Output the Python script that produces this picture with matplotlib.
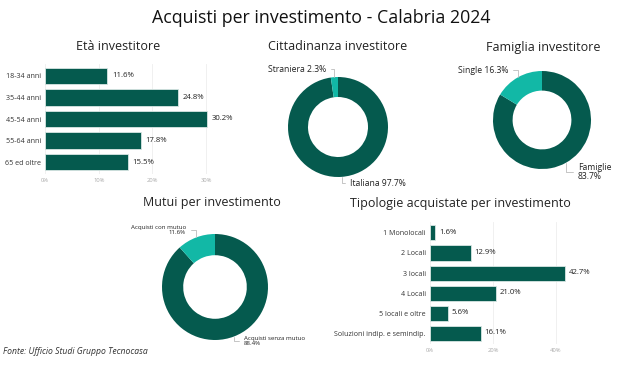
import matplotlib
matplotlib.use("Agg")
import matplotlib.pyplot as plt
import numpy as np

plt.rcParams['font.family'] = ['Open Sans', 'DejaVu Sans']

# ---- dati ----
eta_labels = ["18-34 anni", "35-44 anni", "45-54 anni", "55-64 anni", "65 ed oltre"]
eta_values = [11.6, 24.8, 30.2, 17.8, 15.5]

citt_labels = ["Italiana", "Straniera"]
citt_values = [97.7, 2.3]

fam_labels = ["Famiglie", "Single"]
fam_values = [83.7, 16.3]

mutui_labels = ["Acquisti senza mutuo", "Acquisti con mutuo"]
mutui_values = [88.4, 11.6]

tipo_labels = ["1 Monolocali", "2 Locali", "3 locali", "4 Locali",
               "5 locali e oltre", "Soluzioni indip. e semindip."]
tipo_values = [1.6, 12.9, 42.7, 21.0, 5.6, 16.1]

DARK = "#055a4e"
TEAL = "#12b8a6"
W, H = 643, 367

fig = plt.figure(figsize=(W / 100, H / 100), dpi=100)


def px_axes(left, top, width, height):
    # assi in coordinate pixel (origine in alto a sinistra)
    return fig.add_axes([left / W, 1 - (top + height) / H, width / W, height / H])


def barh_panel(ax, labels, values, xmax, ticks):
    y = range(len(labels))
    ax.barh(y, values, height=0.75, color=DARK, edgecolor="#d8e6e3", linewidth=0.6, zorder=3)
    ax.set_yticks(list(y))
    ax.set_yticklabels(labels, fontsize=5.1, color="#333333")
    ax.set_ylim(len(labels) - 0.45, -0.55)
    ax.set_xlim(0, xmax)
    ax.set_xticks(ticks)
    ax.set_xticklabels([f"{t}%" for t in ticks], fontsize=4.2, color="#aaaaaa")
    ax.grid(axis="x", color="#eeeeee", linewidth=0.6, zorder=0)
    for s in ax.spines.values():
        s.set_visible(False)
    ax.tick_params(length=0, pad=3)
    for i, v in enumerate(values):
        ax.text(v + xmax * 0.025, i, f"{v:.1f}%", va="center", ha="left",
                fontsize=5.6, color="#222222")


def donut_panel(ax, values, labels_info, fs=6.2):
    wedges, _ = ax.pie(values, colors=[DARK, TEAL], startangle=90, counterclock=False,
                       radius=1, wedgeprops=dict(width=0.4, linewidth=0))
    ax.set_xlim(-1, 1)
    ax.set_ylim(-1, 1)
    ax.set_aspect("equal")
    for w, (txt, pos, ha) in zip(wedges, labels_info):
        ang = np.deg2rad((w.theta1 + w.theta2) / 2)
        pt = (np.cos(ang), np.sin(ang))
        ax.annotate(txt, xy=pt, xytext=pos, ha=ha, va="center", fontsize=fs,
                    color="#222222", annotation_clip=False, linespacing=1.1,
                    arrowprops=dict(arrowstyle="-", color="#bbbbbb", lw=0.6,
                                    shrinkA=1.5, shrinkB=0,
                                    connectionstyle="angle,angleA=0,angleB=90,rad=0"))


# titolo principale
fig.text(321 / W, 1 - 18 / H, "Acquisti per investimento - Calabria 2024",
         ha="center", va="center", fontsize=12.8, color="#111111")

# Età investitore
ax1 = px_axes(45, 64, 182.5, 110)
barh_panel(ax1, eta_labels, eta_values, 34, [0, 10, 20, 30])
fig.text(118 / W, 1 - 47 / H, "Età investitore", ha="center", va="center",
         fontsize=9, color="#222222")

# Cittadinanza investitore
ax2 = px_axes(338 - 50, 127 - 50, 100, 100)
donut_panel(ax2, citt_values, [
    (f"{citt_labels[0]} {citt_values[0]}%", (0.24, -1.12), "left"),
    (f"{citt_labels[1]} {citt_values[1]}%", (-0.24, 1.16), "right"),
])
fig.text(338 / W, 1 - 47 / H, "Cittadinanza investitore", ha="center", va="center",
         fontsize=9, color="#222222")

# Famiglia investitore
ax3 = px_axes(542 - 49, 120 - 49, 98, 98)
donut_panel(ax3, fam_values, [
    (f"{fam_labels[0]}\n{fam_values[0]}%", (0.73, -1.06), "left"),
    (f"{fam_labels[1]} {fam_values[1]}%", (-0.69, 1.02), "right"),
])
fig.text(543 / W, 1 - 47 / H, "Famiglia investitore", ha="center", va="center",
         fontsize=9, color="#222222")

# Mutui per investimento
ax4 = px_axes(215 - 53, 287 - 53, 106, 106)
donut_panel(ax4, mutui_values, [
    (f"{mutui_labels[0]}\n{mutui_values[0]}%", (0.55, -1.02), "left"),
    (f"{mutui_labels[1]}\n{mutui_values[1]}%", (-0.55, 1.08), "right"),
], fs=4.4)
fig.text(212 / W, 1 - 203 / H, "Mutui per investimento", ha="center", va="center",
         fontsize=9, color="#222222")

# Tipologie acquistate per investimento
ax5 = px_axes(430, 222, 157.5, 122)
barh_panel(ax5, tipo_labels, tipo_values, 50, [0, 20, 40])
fig.text(460 / W, 1 - 204 / H, "Tipologie acquistate per investimento", ha="center",
         va="center", fontsize=9, color="#222222")

# fonte
fig.text(3 / W, 1 - 352 / H, "Fonte: Ufficio Studi Gruppo Tecnocasa", ha="left",
         va="center", fontsize=6.2, style="italic", color="#333333")

fig.savefig("out.png", dpi=100)
